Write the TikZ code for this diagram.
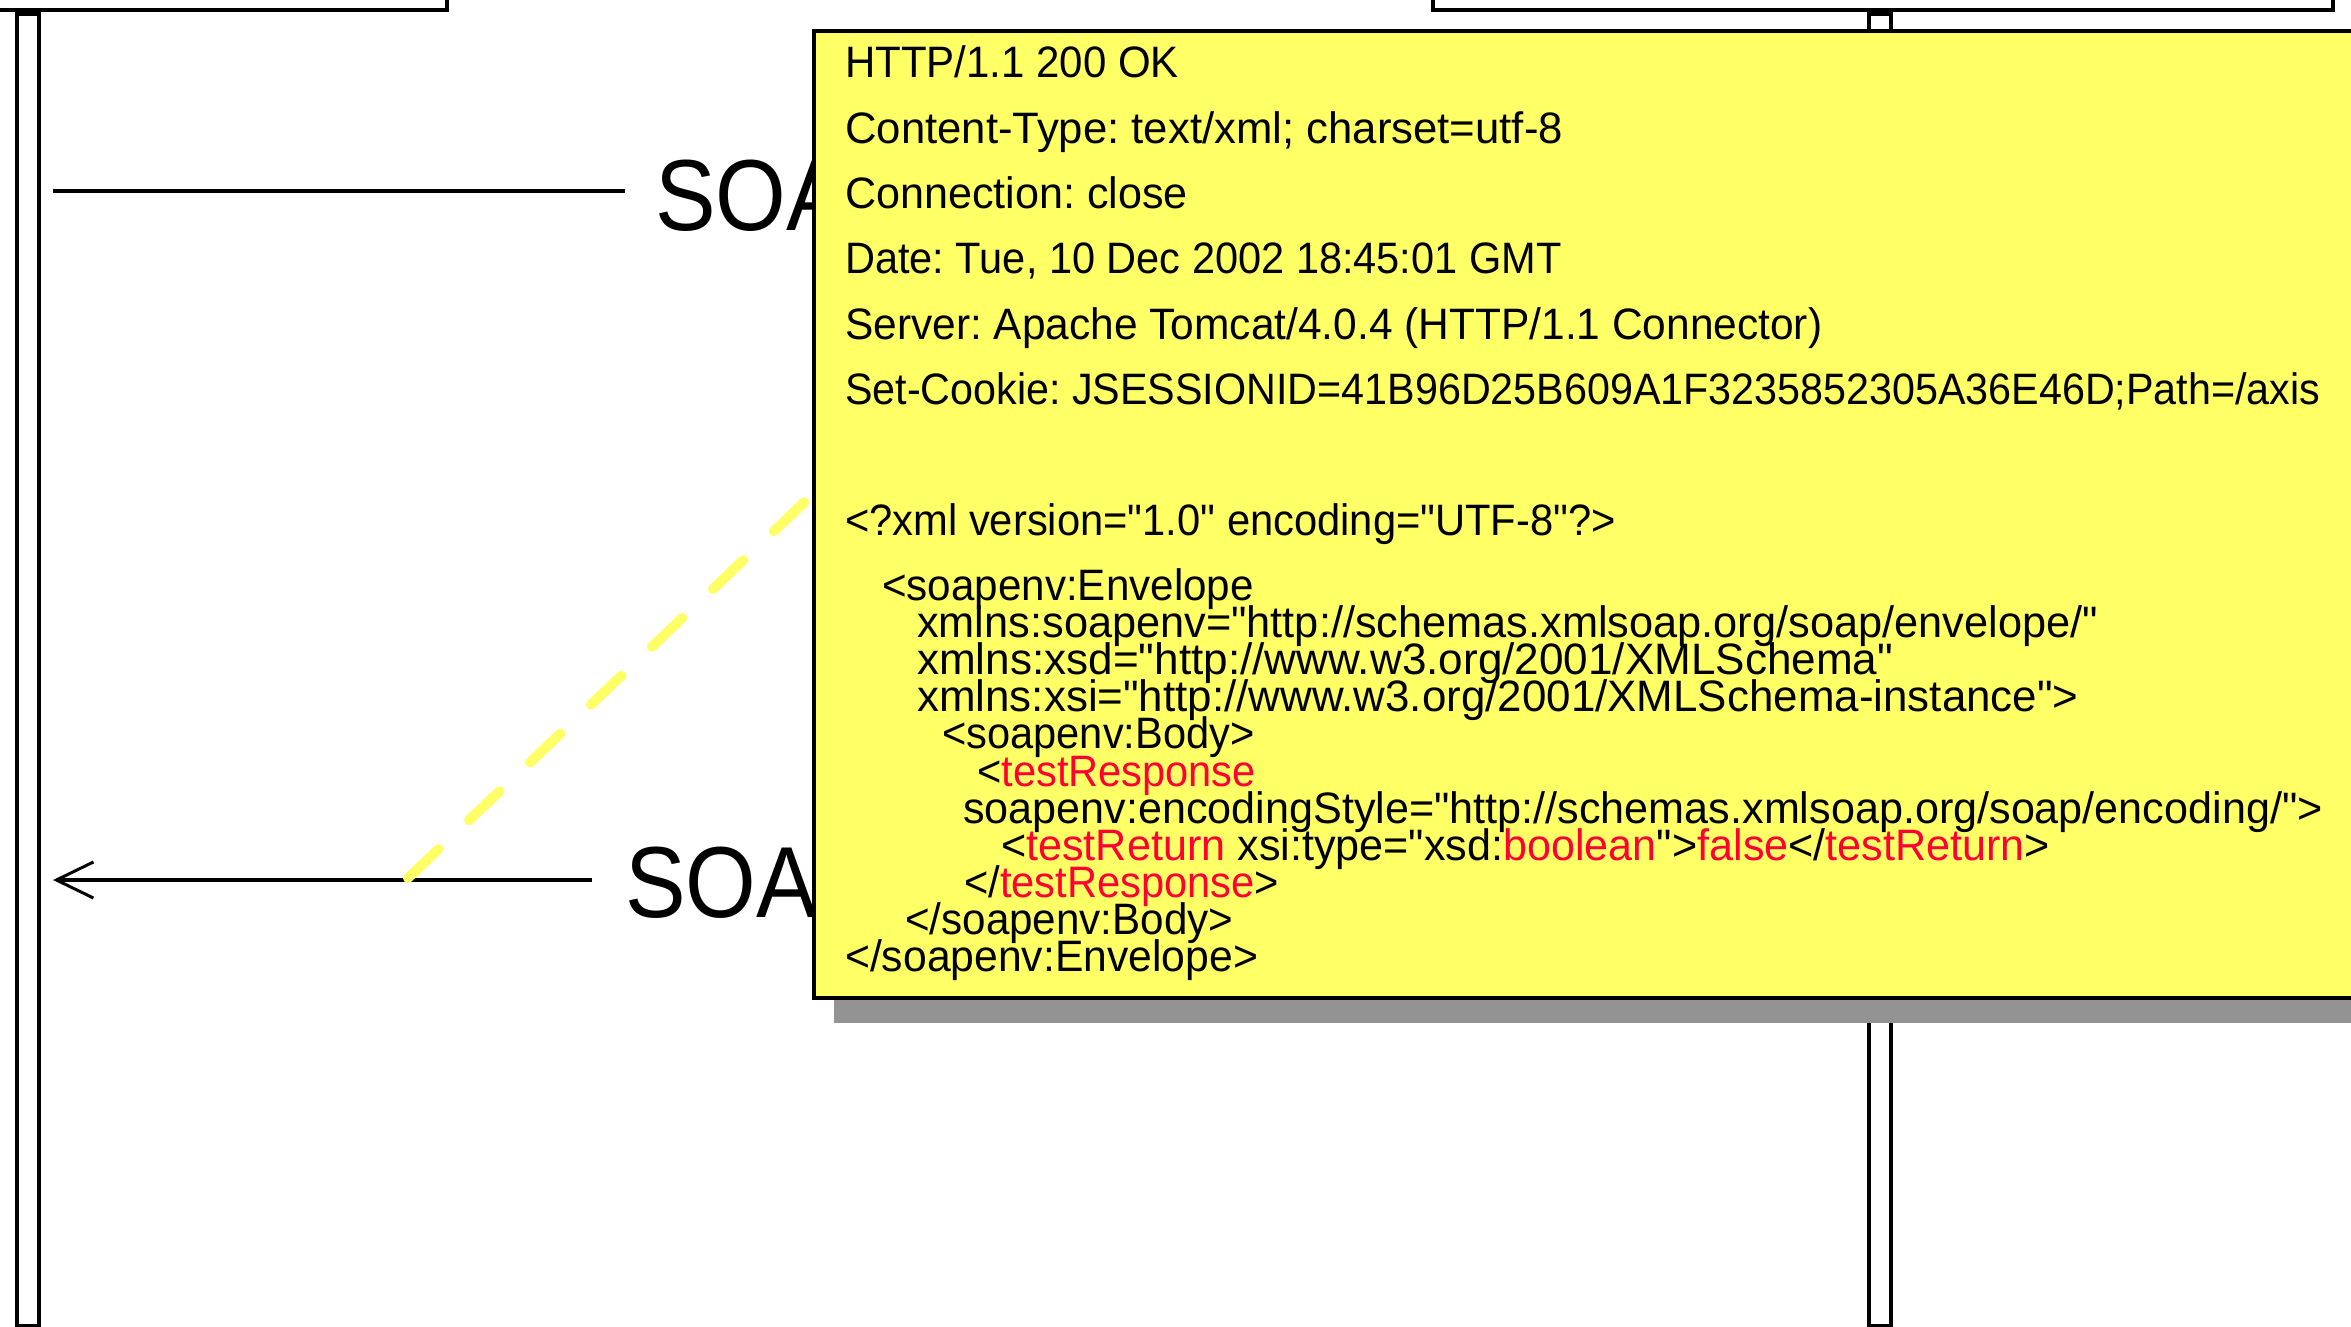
\documentclass[tikz,border=0pt]{standalone}
\usepackage{fontspec}
\usepackage{graphicx}
\usetikzlibrary{arrows.meta}
\newfontfamily\notefont[FakeStretch=0.97]{Liberation Sans}
\newfontfamily\msgfont[FakeStretch=0.9]{Liberation Sans}
\definecolor{noteyellow}{RGB}{255,255,102}
\definecolor{shadowgray}{RGB}{147,147,147}
\definecolor{xmlred}{RGB}{255,0,51}
\newcommand{\rd}[1]{\textcolor{xmlred}{#1}}
\newcommand{\sx}[2]{\scalebox{#1}[1]{#2}}
\frenchspacing
\begin{document}
\begin{tikzpicture}[x=1pt,y=-1pt,
  objbox/.style={draw=black,line width=4pt,fill=white,inner sep=0pt},
  msgline/.style={line width=4pt},
  msglabel/.style={font={\msgfont\fontsize{101}{101}\selectfont},anchor=base west,inner sep=0pt},
  ln/.style={font={\notefont\fontsize{44}{44}\selectfont},anchor=base west,inner sep=0pt},
  notelink/.style={draw=noteyellow,line width=10pt,line cap=round,dash pattern=on 42pt off 42pt},
  notebox/.style={draw=black,line width=4pt,fill=noteyellow,inner sep=0pt,anchor=north west},
  notefill/.style={fill=shadowgray,inner sep=0pt,anchor=north west}]
\useasboundingbox (0,0) rectangle (2351,1326);
\clip (0,0) rectangle (2351,1326);
% lifelines
\node[objbox,anchor=north west,minimum width=22pt,minimum height=1312pt] (leftbar) at (15,12) {};
\node[objbox,anchor=north west,minimum width=22pt,minimum height=1312pt] (rightbar) at (1867,12) {};
\node[objbox,anchor=south west,minimum width=465pt,minimum height=200pt] (leftobj) at (-20,12) {};
\node[objbox,anchor=south west,minimum width=900pt,minimum height=200pt] (rightobj) at (1431,12) {};
% messages
\coordinate (a1) at (53,191);
\node[msglabel] (soap1) at (655,230) {SOAP};
\draw[msgline,shorten >=30pt] (a1) -- (a1 -| soap1.west);
\coordinate (a2) at (53,880);
\node[msglabel] (soap2) at (625,917) {SOAP};
\draw[msgline,{Straight Barb[length=37pt,width=36pt,line width=3pt]}-,shorten >=33pt] (a2) -- (a2 -| soap2.west);
% note link
\coordinate (d1) at (408,878);
\coordinate (d2) at (812,495);
\draw[notelink] (d1) -- (d2);
% note
\node[notefill,minimum width=1600pt,minimum height=966pt] (shadow) at (834,57) {};
\node[notebox,minimum width=1600pt,minimum height=967pt] (note) at (812,29) {};
\node[ln] (t1) at (845,77) {\sx{0.984}{HTTP/1.1 200 OK}};
\node[ln] (t2) at (845,143) {\sx{1.024}{Content-Type: text/xml; charset=utf-8}};
\node[ln] (t3) at (845,208) {\sx{1.01}{Connection: close}};
\node[ln] (t4) at (845,273) {\sx{0.973}{Date: Tue, 10 Dec 2002 18:45:01 GMT}};
\node[ln] (t5) at (845,339) {\sx{0.995}{Server: Apache Tomcat/4.0.4 (HTTP/1.1 Connector)}};
\node[ln] (t6) at (845,404) {\sx{0.967}{Set-Cookie: JSESSIONID=41B96D25B609A1F3235852305A36E46D;Path=/axis}};
\node[ln] (x1) at (845,535) {\sx{0.977}{<?xml version="1.0" encoding="UTF-8"?>}};
\node[ln] (x2) at (882,600) {\sx{0.988}{<soapenv:Envelope}};
\node[ln] (x3) at (917,637) {\sx{1.015}{xmlns:soapenv="http://schemas.xmlsoap.org/soap/envelope/"}};
\node[ln] (x4) at (917,674) {\sx{1.033}{xmlns:xsd="http://www.w3.org/2001/XMLSchema"}};
\node[ln] (x5) at (917,711) {\sx{1.029}{xmlns:xsi="http://www.w3.org/2001/XMLSchema-instance">}};
\node[ln] (x6) at (942,748) {\sx{0.975}{<soapenv:Body>}};
\node[ln] (x7) at (977,786) {\sx{0.975}{<\rd{testResponse}}};
\node[ln] (x8) at (963,823) {\sx{1.011}{soapenv:encodingStyle="http://schemas.xmlsoap.org/soap/encoding/">}};
\node[ln] (x9) at (1001,860) {\sx{1.011}{<\rd{testReturn} xsi:type="xsd:\rd{boolean}">\rd{false}</\rd{testReturn}>}};
\node[ln] (x10) at (964,897) {\sx{0.975}{</\rd{testResponse}>}};
\node[ln] (x11) at (905,934) {\sx{0.988}{</soapenv:Body>}};
\node[ln] (x12) at (845,971) {\sx{1.0}{</soapenv:Envelope>}};
\end{tikzpicture}
\end{document}
